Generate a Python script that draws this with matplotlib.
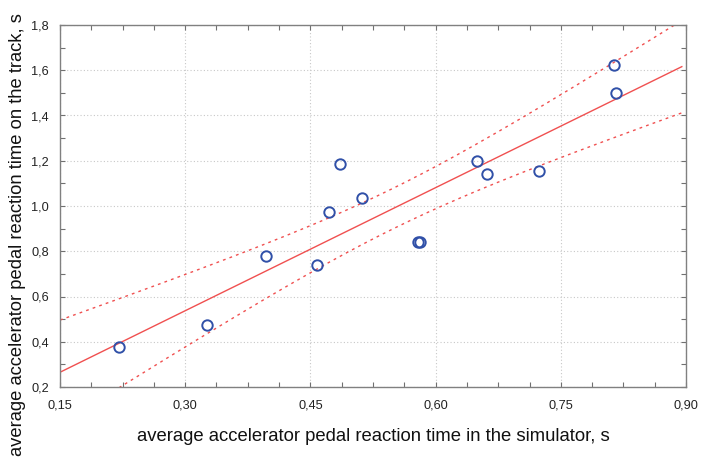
import numpy as np
import matplotlib
matplotlib.use("Agg")
import matplotlib.pyplot as plt
from matplotlib.ticker import FixedLocator, MultipleLocator, FuncFormatter

plt.rcParams['font.family'] = ['Liberation Sans', 'DejaVu Sans']

# data
x_sim = [0.221, 0.326, 0.397, 0.458, 0.472, 0.486, 0.512, 0.5795, 0.5815, 0.650, 0.661, 0.724, 0.814, 0.816]
y_track = [0.377, 0.474, 0.779, 0.739, 0.973, 1.186, 1.035, 0.841, 0.841, 1.199, 1.141, 1.155, 1.623, 1.499]

x_ticks = [0.15, 0.30, 0.45, 0.60, 0.75, 0.90]
y_ticks = [0.2, 0.4, 0.6, 0.8, 1.0, 1.2, 1.4, 1.6, 1.8]

xlabel = "average accelerator pedal reaction time in the simulator, s"
ylabel = "average accelerator pedal reaction time on the track, s"

x = np.array(x_sim)
y = np.array(y_track)
n = len(x)
b, a = np.polyfit(x, y, 1)
resid = y - (a + b * x)
s = np.sqrt(np.sum(resid**2) / (n - 2))
sxx = np.sum((x - x.mean())**2)
t = 2.179  # ~95%
xs = np.linspace(0.15, 0.895, 200)
ys = a + b * xs
hw = t * s * np.sqrt(1.0 / n + (xs - x.mean())**2 / sxx)

fig = plt.figure(figsize=(7.02, 4.61), dpi=100)
ax = fig.add_axes([60/702, 1 - 387/461, (686-60)/702, (387-25)/461])

red = '#f05050'
ax.plot(xs, ys, color=red, lw=1.0, zorder=2)
ax.plot(xs, ys + hw, color=red, lw=1.0, ls=(0, (2, 3)), zorder=2)
ax.plot(xs, ys - hw, color=red, lw=1.0, ls=(0, (2, 3)), zorder=2)
ax.plot(x, y, ls='none', marker='o', ms=7.5, mfc='none', mec='#3050a8', mew=1.4, zorder=3)

ax.set_xlim(0.15, 0.90)
ax.set_ylim(0.2, 1.8)
ax.xaxis.set_major_locator(FixedLocator(x_ticks))
ax.yaxis.set_major_locator(FixedLocator(y_ticks))
ax.xaxis.set_minor_locator(MultipleLocator(0.0375))
ax.yaxis.set_minor_locator(MultipleLocator(0.1))
ax.xaxis.set_major_formatter(FuncFormatter(lambda v, p: f"{v:.2f}".replace('.', ',')))
ax.yaxis.set_major_formatter(FuncFormatter(lambda v, p: f"{v:.1f}".replace('.', ',')))
ax.tick_params(which='both', direction='in', top=True, right=True, length=3.5,
               width=0.8, color='#707070', labelsize=9.2, labelcolor='#222222')
ax.tick_params(axis='x', pad=9)
ax.tick_params(axis='y', pad=8)
ax.grid(True, which='major', color='#c8c8c8', ls=(0, (1, 2)), lw=0.8)
for sp in ax.spines.values():
    sp.set_color('#808080')
    sp.set_linewidth(1.0)

ax.set_xlabel(xlabel, fontsize=13.3, color='#111111', labelpad=12)
ax.set_ylabel(ylabel, fontsize=13.2, color='#111111')
ax.yaxis.set_label_coords(-0.054, 0.42)

fig.savefig("out.png", dpi=100)
